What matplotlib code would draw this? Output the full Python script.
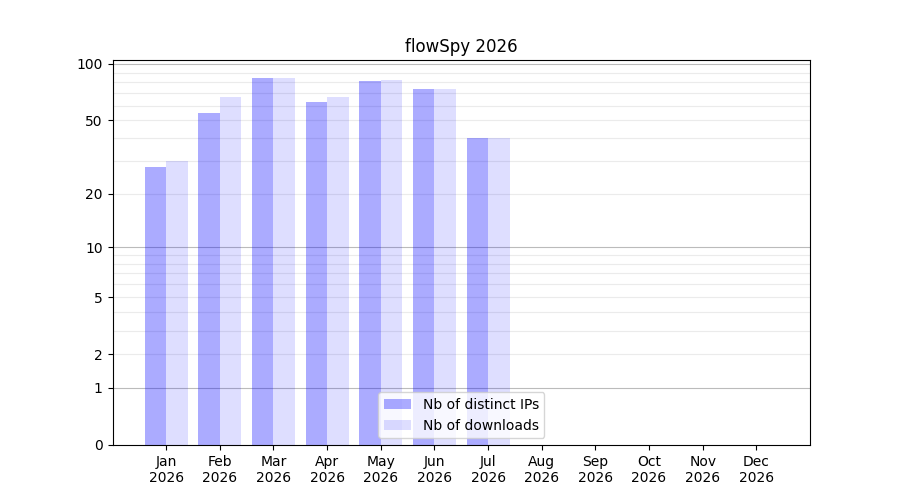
import matplotlib
matplotlib.use('Agg')
import matplotlib.pyplot as plt
import numpy as np

# Data

months = ['Jan', 'Feb', 'Mar', 'Apr', 'May', 'Jun', 'Jul', 'Aug', 'Sep', 'Oct', 'Nov', 'Dec']
year = '2026'
distinct_ips = [28, 55, 84, 63, 81, 74, 40, 0, 0, 0, 0, 0]
downloads = [30, 67, 84, 67, 82, 74, 40, 0, 0, 0, 0, 0]
tick_values = [0, 1, 2, 5, 10, 20, 50, 100]
major_grid = [1, 10, 100]
minor_grid = [2, 3, 4, 5, 6, 7, 8, 9, 20, 30, 40, 50, 60, 70, 80, 90]

# Plot

x = np.arange(len(months))
fig, ax = plt.subplots(figsize=(9, 5), dpi=100)

ax.set_yscale('function', functions=(lambda v: np.log10(1 + np.maximum(v, 0)),
                                     lambda v: 10**v - 1))

ax.bar(x, distinct_ips, width=-0.4, align='edge', color='blue', alpha=0.33,
       linewidth=0, label='Nb of distinct IPs')
ax.bar(x, downloads, width=0.4, align='edge', color='blue', alpha=0.13,
       linewidth=0, label='Nb of downloads')

for v in major_grid:
    ax.axhline(v, color='#bbbbbb', linewidth=0.8, zorder=0)
for v in minor_grid:
    ax.axhline(v, color='#ebebeb', linewidth=0.8, zorder=0)

ax.set_yticks(tick_values)
ax.set_yticklabels([str(v) for v in tick_values])
ax.set_xticks(x)
ax.set_xticklabels([m + '\n' + year for m in months])
ax.set_xlim(-1, 12)
ax.set_ylim(0, 105)

ax.set_title('flowSpy ' + year)
ax.legend(loc='lower center')

fig.savefig('out.png', dpi=100)
